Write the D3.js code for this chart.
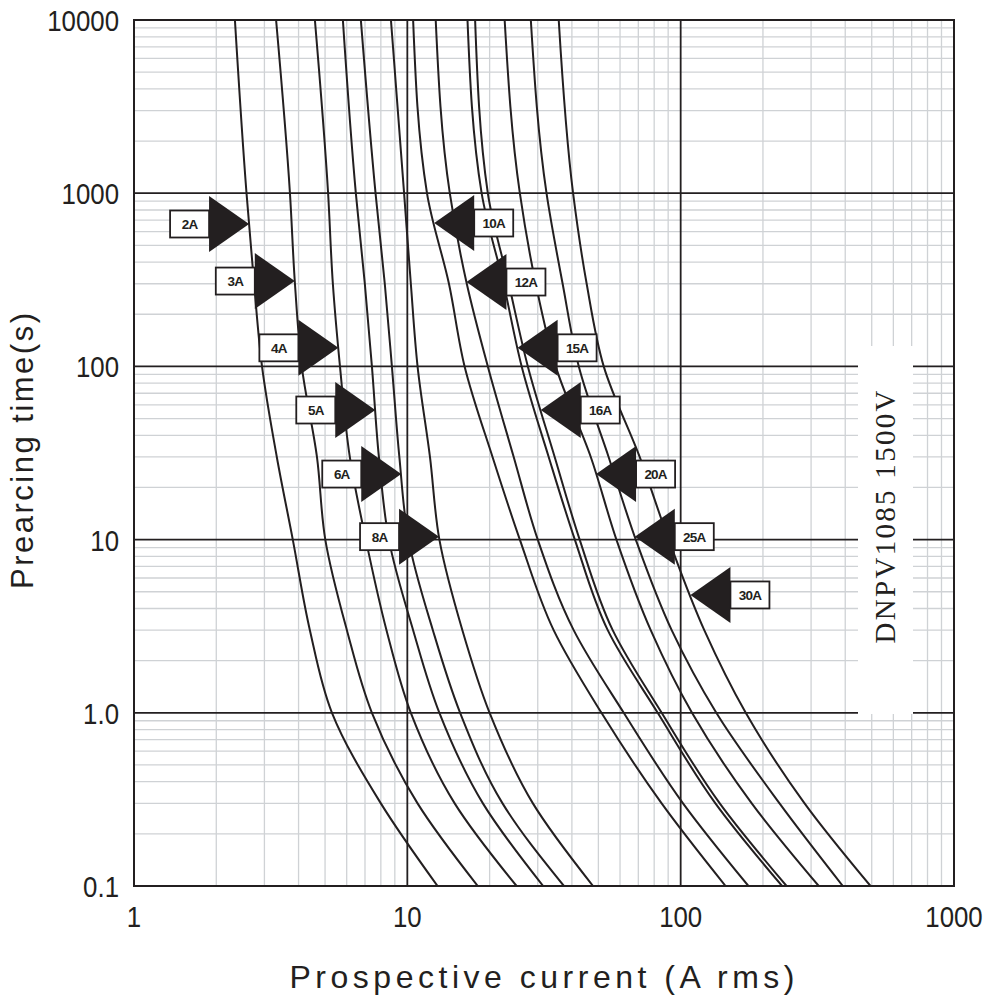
<!DOCTYPE html>
<html>
<head>
<meta charset="utf-8">
<script src="https://cdn.jsdelivr.net/npm/d3@7"></script>
<style>
  html, body { margin: 0; padding: 0; background: #fff; }
  svg { display: block; }
</style>
</head>
<body>
<svg id="chart" width="1000" height="996"></svg>
<script>
// ---------------- data ----------------
const timeLevels = [10000, 1000, 300, 100, 30, 10, 3, 1, 0.3, 0.1];   // s
const ratings = ["2A","3A","4A","5A","6A","8A","10A","12A","15A","16A","20A","25A","30A"];
// prospective current (A rms) at each of the time levels above
const curve2A  = [2.34, 2.58, 2.75, 2.94, 3.33, 3.81, 4.40, 5.30, 8.00, 12.9];
const curve3A  = [3.31, 3.72, 3.88, 4.11, 4.67, 5.01, 6.01, 7.42, 10.9, 18.1];
const curve4A  = [4.59, 5.13, 5.34, 5.67, 6.16, 7.05, 8.39, 10.3, 14.9, 25.1];
const curve5A  = [5.81, 6.48, 6.99, 7.42, 7.87, 8.56, 10.5, 13.1, 18.9, 31.4];
const curve6A  = [6.76, 7.65, 8.27, 8.78, 9.35, 10.1, 12.4, 15.6, 22.3, 37.4];
const curve8A  = [8.71, 9.73, 10.3, 10.9, 12.1, 13.1, 15.9, 20.0, 28.8, 47.8];
const curve10A = [10.5, 11.8, 14.2, 16.2, 20.5, 25.8, 34.3, 51.3, 85.2, 146];
const curve12A = [12.7, 14.3, 16.5, 19.7, 24.5, 30.0, 40.6, 61.9, 102, 177];
const curve15A = [16.6, 18.7, 22.5, 26.2, 32.9, 41.0, 54.1, 82.4, 134, 235];
const curve16A = [17.7, 19.7, 23.5, 27.6, 34.6, 42.7, 56.4, 85.2, 139, 244];
const curve20A = [22.7, 25.8, 29.5, 34.9, 46.9, 58.2, 77.7, 110, 182, 320];
const curve25A = [28.3, 32.3, 37.0, 42.4, 54.5, 68.5, 92.7, 135, 230, 392];
const curve30A = [35.8, 40.4, 45.3, 52.3, 70.8, 90.4, 122, 173, 284, 495];
const curves = [curve2A, curve3A, curve4A, curve5A, curve6A, curve8A, curve10A,
                curve12A, curve15A, curve16A, curve20A, curve25A, curve30A];
// time (s) at which each rating's pointer touches its curve, and pointer direction
const arrowTimes = [664, 311, 128, 56, 23.9, 10.4, 673, 307, 128, 56, 23.9, 10.4, 4.79];
const arrowDirs  = ["right","right","right","right","right","right",
                    "left","left","left","left","left","left","left"];
const xTickValues = [1, 10, 100, 1000];
const xTickLabels = ["1", "10", "100", "1000"];
const yTickValues = [10000, 1000, 100, 10, 1, 0.1];
const yTickLabels = ["10000", "1000", "100", "10", "1.0", "0.1"];
const xTitle = "Prospective current (A rms)";
const yTitle = "Prearcing time(s)";
const productLabel = "DNPV1085 1500V";

// ---------------- layout ----------------
const L = 134, R = 954, T = 20, B = 886;
const INK = "#231f20";
const GRID = "#cfd2d5";

const svg = d3.select("#chart");
const x = d3.scaleLog().domain([1, 1000]).range([L, R]);
const y = d3.scaleLog().domain([0.1, 10000]).range([B, T]);

// minor grid
const minorX = [], minorY = [];
[1, 10, 100].forEach(d => { for (let k = 2; k <= 9; k++) minorX.push(d * k); });
[0.1, 1, 10, 100, 1000].forEach(d => { for (let k = 2; k <= 9; k++) minorY.push(d * k); });

const grid = svg.append("g");
grid.selectAll(".mx").data(minorX).join("line")
  .attr("x1", d => x(d)).attr("x2", d => x(d)).attr("y1", T).attr("y2", B)
  .attr("stroke", GRID).attr("stroke-width", 1.3);
grid.selectAll(".my").data(minorY).join("line")
  .attr("y1", d => y(d)).attr("y2", d => y(d)).attr("x1", L).attr("x2", R)
  .attr("stroke", GRID).attr("stroke-width", 1.3);

// major grid
grid.selectAll(".Mx").data([10, 100]).join("line")
  .attr("x1", d => x(d)).attr("x2", d => x(d)).attr("y1", T).attr("y2", B)
  .attr("stroke", INK).attr("stroke-width", 1.8);
grid.selectAll(".My").data([1000, 100, 10, 1]).join("line")
  .attr("y1", d => y(d)).attr("y2", d => y(d)).attr("x1", L).attr("x2", R)
  .attr("stroke", INK).attr("stroke-width", 1.8);

// white panel behind product label
svg.append("rect").attr("x", 858).attr("y", 346).attr("width", 55).attr("height", 368)
  .attr("fill", "#fff");
svg.append("text")
  .attr("transform", "translate(895,517) rotate(-90)")
  .attr("text-anchor", "middle")
  .attr("font-family", "'Liberation Serif','DejaVu Serif',serif")
  .attr("font-size", 29)
  .attr("fill", INK)
  .attr("textLength", 253).attr("lengthAdjust", "spacing")
  .text(productLabel);

// clip
svg.append("clipPath").attr("id", "plotclip")
  .append("rect").attr("x", L).attr("y", T).attr("width", R - L).attr("height", B - T);

// curves
const line = d3.line()
  .x(d => x(d[0])).y(d => y(d[1]))
  .curve(d3.curveMonotoneY);

svg.append("g").attr("clip-path", "url(#plotclip)")
  .selectAll("path").data(curves).join("path")
  .attr("d", c => line(c.map((v, i) => [v, timeLevels[i]])))
  .attr("fill", "none").attr("stroke", INK).attr("stroke-width", 2);

// frame
svg.append("rect").attr("x", L).attr("y", T).attr("width", R - L).attr("height", B - T)
  .attr("fill", "none").attr("stroke", INK).attr("stroke-width", 2);

// pointer position on a curve at a given time (log interpolation)
function currentAt(c, t) {
  const lt = Math.log10(t);
  for (let i = 0; i < timeLevels.length - 1; i++) {
    const a = Math.log10(timeLevels[i]), b = Math.log10(timeLevels[i + 1]);
    if (lt <= a && lt >= b) {
      const f = (lt - a) / (b - a);
      return Math.pow(10, Math.log10(c[i]) + f * (Math.log10(c[i + 1]) - Math.log10(c[i])));
    }
  }
  return c[0];
}

const TW = 40, TH = 56, BW = 39, BH = 27;
const arrows = svg.append("g");
ratings.forEach((name, i) => {
  const tx = x(currentAt(curves[i], arrowTimes[i]));
  const ty = y(arrowTimes[i]);
  const g = arrows.append("g");
  let pts, bx;
  if (arrowDirs[i] === "right") {
    pts = [[tx, ty], [tx - TW, ty - TH / 2], [tx - TW, ty + TH / 2]];
    bx = tx - TW - BW;
  } else {
    pts = [[tx, ty], [tx + TW, ty - TH / 2], [tx + TW, ty + TH / 2]];
    bx = tx + TW;
  }
  g.append("polygon").attr("points", pts.map(p => p.join(",")).join(" "))
    .attr("fill", INK);
  g.append("rect").attr("x", bx).attr("y", ty - BH / 2).attr("width", BW).attr("height", BH)
    .attr("fill", "#fff").attr("stroke", INK).attr("stroke-width", 1.8);
  g.append("text").attr("x", bx + BW / 2).attr("y", ty + 5)
    .attr("text-anchor", "middle")
    .attr("font-family", "'Liberation Sans',Arial,sans-serif")
    .attr("font-weight", "bold").attr("font-size", 13.5)
    .attr("letter-spacing", -0.8)
    .attr("fill", INK).text(name);
});

// tick labels
const tickFont = "'Liberation Sans',Arial,sans-serif";
const yt = svg.append("g").selectAll("text").data(yTickValues).join("text")
  .attr("x", 119).attr("y", d => y(d) + 11)
  .attr("text-anchor", "end")
  .attr("font-family", tickFont).attr("font-size", 30).attr("fill", INK)
  .text((d, i) => yTickLabels[i]);
const xt = svg.append("g").selectAll("text").data(xTickValues).join("text")
  .attr("x", d => x(d)).attr("y", 927)
  .attr("text-anchor", "middle")
  .attr("font-family", tickFont).attr("font-size", 30).attr("fill", INK)
  .text((d, i) => xTickLabels[i]);
[yt, xt].forEach(sel => sel.each(function () {
  const w = this.getComputedTextLength();
  d3.select(this).attr("textLength", w * 0.86).attr("lengthAdjust", "spacingAndGlyphs");
}));

// axis titles
svg.append("text")
  .attr("x", 542).attr("y", 988)
  .attr("text-anchor", "middle")
  .attr("font-family", tickFont).attr("font-size", 32).attr("fill", INK)
  .attr("textLength", 505).attr("lengthAdjust", "spacing")
  .text(xTitle);
svg.append("text")
  .attr("transform", "translate(33,451) rotate(-90)")
  .attr("text-anchor", "middle")
  .attr("font-family", tickFont).attr("font-size", 31).attr("fill", INK)
  .attr("textLength", 276).attr("lengthAdjust", "spacing")
  .text(yTitle);
</script>
</body>
</html>
